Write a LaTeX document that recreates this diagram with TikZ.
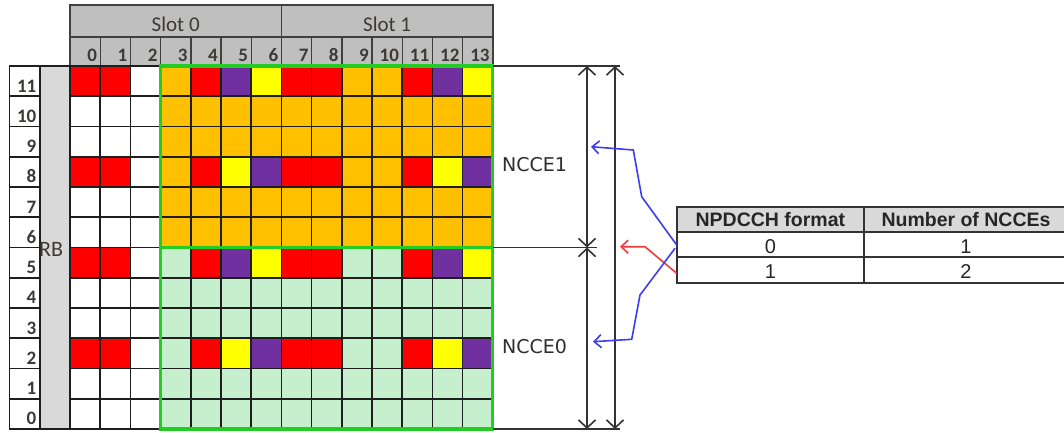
\documentclass[tikz,border=0pt]{standalone}
\usepackage{fontspec}
\setmainfont{Carlito}
\newfontfamily\tblfont{Liberation Sans}
\newfontfamily\lblfont{DejaVu Sans}
\usetikzlibrary{arrows.meta}

% cell fills
\definecolor{cR}{HTML}{FF0000}
\definecolor{cP}{HTML}{7030A0}
\definecolor{cY}{HTML}{FFFF00}
\definecolor{cO}{HTML}{FFC000}
\definecolor{cG}{HTML}{C6EFCE}
\definecolor{cW}{HTML}{FFFFFF}
% other colours
\definecolor{hdrgray}{HTML}{BFBFBF}
\definecolor{rbgray}{HTML}{D9D9D9}
\definecolor{txtgray}{HTML}{3C3A36}
\definecolor{gridline}{HTML}{1E1E1E}
\definecolor{frame}{HTML}{22CC22}
\definecolor{dimgray}{HTML}{333333}
\definecolor{pblue}{HTML}{3C3CF0}
\definecolor{pred}{HTML}{F03C3C}

% RB rows, top to bottom: R=red, P=purple, Y=yellow, O=orange, G=green, W=white
\def\rowpatterns{%
11/{R,R,W,O,R,P,Y,R,R,O,O,R,P,Y},
10/{W,W,W,O,O,O,O,O,O,O,O,O,O,O},
9/{W,W,W,O,O,O,O,O,O,O,O,O,O,O},
8/{R,R,W,O,R,Y,P,R,R,O,O,R,Y,P},
7/{W,W,W,O,O,O,O,O,O,O,O,O,O,O},
6/{W,W,W,O,O,O,O,O,O,O,O,O,O,O},
5/{R,R,W,G,R,P,Y,R,R,G,G,R,P,Y},
4/{W,W,W,G,G,G,G,G,G,G,G,G,G,G},
3/{W,W,W,G,G,G,G,G,G,G,G,G,G,G},
2/{R,R,W,G,R,Y,P,R,R,G,G,R,Y,P},
1/{W,W,W,G,G,G,G,G,G,G,G,G,G,G},
0/{W,W,W,G,G,G,G,G,G,G,G,G,G,G}}

\begin{document}
\begin{tikzpicture}[x=1pt,y=-1pt,
  cellgrid/.style={draw=gridline, line width=1.6pt},
  hdrcell/.style={fill=hdrgray, draw=gridline!85, line width=1.4pt},
  numtxt/.style={text=txtgray, font=\bfseries\fontsize{19}{19}\selectfont, inner sep=0pt, anchor=base east},
  slottxt/.style={text=txtgray, font=\fontsize{21}{21}\selectfont, inner sep=0pt, anchor=base},
  frameline/.style={draw=frame, line width=3.2pt},
  dimline/.style={draw=dimgray, line width=1.6pt},
  dimarrow/.style={dimline, {Straight Barb[length=8pt,width=17pt]}-{Straight Barb[length=8pt,width=17pt]}},
  pointer/.style={line width=1.6pt, -{Straight Barb[length=7pt,width=13pt]}},
  tblline/.style={draw=dimgray, line width=2pt},
  tbltxt/.style={text=black!85, font=\tblfont\fontsize{20}{20}\selectfont, inner sep=0pt, anchor=base},
  lbltxt/.style={text=black!82, font=\lblfont\fontsize{19}{19}\selectfont, inner sep=0pt, anchor=base west},
]
\useasboundingbox (0,0) rectangle (1064,432);
\fill[white] (0,0) rectangle (1064,432);

% slot header
\filldraw[hdrcell] (70,5) rectangle (281.4,37);
\filldraw[hdrcell] (281.4,5) rectangle (492.8,37);
\node[slottxt] (slot0) at (175.7,31) {Slot 0};
\node[slottxt] (slot1) at (387.1,31) {Slot 1};

% symbol index header
\foreach \i in {0,...,13} {
  \filldraw[hdrcell] ({70+\i*30.2},37) rectangle ++(30.2,29);
  \node[numtxt] (col\i) at ({70+(\i+1)*30.2-3},61.5) {\i};
}

% RB index column
\foreach \r in {0,...,11} {
  \filldraw[cellgrid, fill=white] (9.5,{66+(11-\r)*30.25}) rectangle ++(30.5,30.25);
  \node[numtxt] (row\r) at (36.5,{66+(11-\r)*30.25+26}) {\r};
}
\filldraw[cellgrid, fill=rbgray] (40,66) rectangle (70,429);
\node[text=txtgray, font=\fontsize{22}{22}\selectfont, inner sep=0pt, anchor=base west] (rb) at (39,256.5) {RB};

% resource grid cells
\foreach \r/\pat in \rowpatterns {
  \foreach \c [count=\i from 0] in \pat {
    \fill[c\c] ({70+\i*30.2},{66+(11-\r)*30.25}) rectangle ++(30.2,30.25);
  }
}
\foreach \i in {0,...,14} \draw[cellgrid] ({70+\i*30.2},66) -- ({70+\i*30.2},429);
\foreach \j in {0,...,12} \draw[cellgrid] (70,{66+\j*30.25}) -- (492.8,{66+\j*30.25});

% NCCE regions
\draw[frameline] (160.6,66) rectangle (492.8,429);
\draw[frameline] (160.6,247.5) -- (492.8,247.5);

% dimension lines
\coordinate (gNE) at (492.8,66);
\coordinate (gE)  at (492.8,247.5);
\coordinate (gSE) at (492.8,429);
\coordinate (xTop) at (620,66);
\coordinate (xMid) at (597,247.5);
\coordinate (xBot) at (620,429);
\draw[dimline] (gNE) -- (xTop);
\draw[dimline] (gE) -- (xMid);
\draw[dimline] (gSE) -- (xBot);
\coordinate (aTop) at (587,66);
\coordinate (aMid) at (587,247.5);
\coordinate (aBot) at (587,429);
\coordinate (bTop) at (615,66);
\coordinate (bBot) at (615,429);
\draw[dimarrow] (aTop) -- (aMid);
\draw[dimarrow] (aMid) -- (aBot);
\draw[dimarrow] (bTop) -- (bBot);
\node[lbltxt] (ncce1) at (502,171.5) {NCCE1};
\node[lbltxt] (ncce0) at (502,353) {NCCE0};

% format table
\fill[rbgray] (676.7,207.3) rectangle (1064,231.7);
\draw[tblline] (1064,207.3) -- (676.7,207.3) -- (676.7,283.3) -- (1064,283.3);
\draw[tblline] (676.7,231.7) -- (1064,231.7);
\draw[tblline] (676.7,256.7) -- (1064,256.7);
\draw[tblline] (864,207.3) -- (864,283.3);
\node[tbltxt, font=\tblfont\bfseries\fontsize{19.5}{19.5}\selectfont] (hfmt) at (770.4,226) {NPDCCH format};
\node[tbltxt, font=\tblfont\bfseries\fontsize{19.5}{19.5}\selectfont] (hnum) at (966,226) {Number of NCCEs};
\node[tbltxt] (fmt0) at (770.4,253) {0};
\node[tbltxt] (num0) at (966,253) {1};
\node[tbltxt] (fmt1) at (770.4,278.5) {1};
\node[tbltxt] (num1) at (966,278.5) {2};

% pointers from table rows to the NCCE spans
\coordinate (f0a) at (676.7,245);
\coordinate (f0b) at (675,248.3);
\coordinate (f1)  at (676.7,273.3);
\coordinate (tip1) at (591,146.7);
\coordinate (tip0) at (593,341.7);
\coordinate (tipR) at (620,246.7);
\draw[pointer, pblue] (f0a) -- (641.7,196.7) -- (633.3,150) -- (tip1);
\draw[pointer, pred] (f1) -- (645,246.7) -- (tipR);
\draw[pointer, pblue] (f0b) -- (640,295) -- (631.7,339.3) -- (tip0);
\end{tikzpicture}
\end{document}
